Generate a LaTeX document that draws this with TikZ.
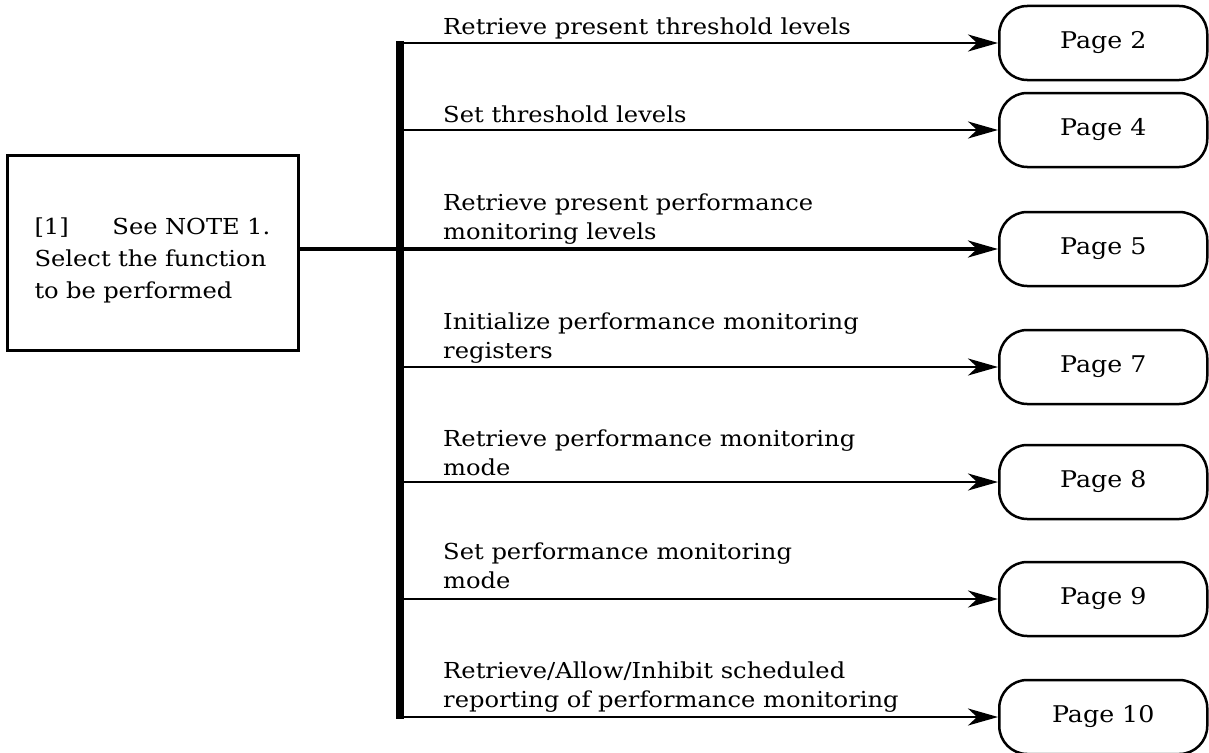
\documentclass[tikz,border=0pt]{standalone}
\usepackage{fontspec}
\setmainfont{DejaVu Serif}[FakeStretch=1.1]
\usetikzlibrary{arrows.meta}
\begin{document}
\begin{tikzpicture}[x=1pt,y=-1pt,
  every node/.style={font=\fontsize{22}{29}\selectfont},
  lbl/.style={anchor=base west, align=left, inner sep=0pt},
  pagebox/.style={draw, line width=2.5pt, rounded corners=28pt,
    minimum width=208pt, minimum height=74pt, inner sep=0pt, anchor=west,
    font=\fontsize{23}{29}\selectfont},
  selbox/.style={draw, line width=3pt, text width=237pt, align=left,
    inner xsep=27pt, inner ysep=0pt, minimum height=195pt,
    font=\fontsize{22}{32}\selectfont},
  feed/.style={line width=2.5pt, -{Stealth[length=30pt,width=17pt,inset=9pt]}},
  mainfeed/.style={feed, line width=4pt},
  bus/.style={line width=8pt},
]
\useasboundingbox (0,0) rectangle (1209,752);

% selection box (the tall strut lowers the text block a little)
\node[selbox] (sel) at (153,252.5)
  {\rule{0pt}{33pt}\makebox[78pt][l]{[1]}See NOTE 1.\\Select the function\\to be performed};

% destination pages
\node[pagebox] (p2)  at (998,43)  {Page 2};
\node[pagebox] (p4)  at (998,130) {Page 4};
\node[pagebox] (p5)  at (998,249) {Page 5};
\node[pagebox] (p7)  at (998,367) {Page 7};
\node[pagebox] (p8)  at (998,482) {Page 8};
\node[pagebox] (p9)  at (998,599) {Page 9};
\node[pagebox] (p10) at (998,717) {Page 10};

% vertical bus
\coordinate (bustop) at (400,41);
\coordinate (busbot) at (400,719);
\draw[bus] (bustop) -- (busbot);

% branches
\draw[mainfeed] (sel.east |- p5.west) -- (p5.west);
\foreach \p in {p2,p4,p7,p8,p9,p10}
  \draw[feed] (bustop |- \p.west) -- (\p.west);

% branch labels (anchored on the baseline of their last line)
\node[lbl] (t2)  at (443,35)  {Retrieve present threshold levels};
\node[lbl] (t4)  at (443,122) {Set threshold levels};
\node[lbl] (t5)  at (443,239) {Retrieve present performance\\monitoring levels};
\node[lbl] (t7)  at (443,358) {Initialize performance monitoring\\registers};
\node[lbl] (t8)  at (443,475) {Retrieve performance monitoring\\mode};
\node[lbl] (t9)  at (443,588) {Set performance monitoring\\mode};
\node[lbl] (t10) at (443,707) {Retrieve/Allow/Inhibit scheduled\\reporting of performance monitoring};
\end{tikzpicture}
\end{document}
